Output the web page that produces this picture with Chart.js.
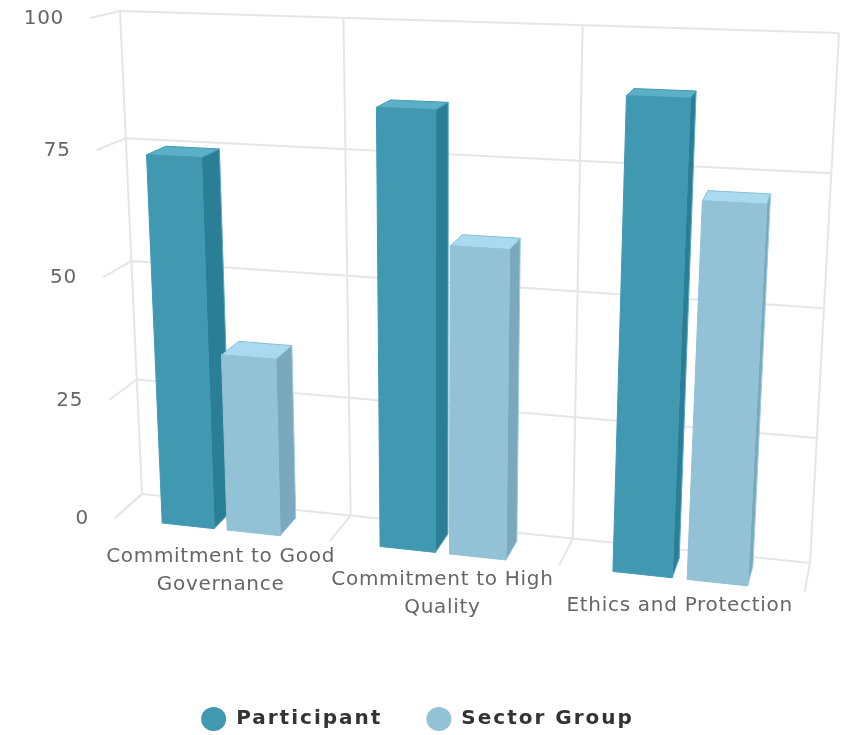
<!DOCTYPE html>
<html>
<head>
<meta charset="utf-8">
<style>
  body { margin: 0; background: #fff; }
</style>
<script src="https://cdn.jsdelivr.net/npm/chart.js@4"></script>
</head>
<body>
<canvas id="chart" width="841" height="735"></canvas>
<script>
// Chart data
const categories = [
  ['Commitment to Good', 'Governance'],
  ['Commitment to High', 'Quality'],
  ['Ethics and Protection']
];
const participantValues = [74.6, 85.5, 89.4];
const sectorValues = [36.2, 60.6, 71.5];
const yTicks = [0, 25, 50, 75, 100];

// Where the plot's walls land on the page: bottom left, bottom right, top right, top left
const frontQuad = [[115, 518], [804.5, 592], [837, 41], [90, 18]];
const backQuad = [[142, 494], [810, 563], [839, 33], [120, 11]];
const barDepth = 0.7;

const participantFaces = { front: '#4198b1', side: '#2a7f97', top: '#5bafc7', edge: '#3f9ab4', sideEdge: '#58a9c1' };
const sectorFaces = { front: '#93c1d6', side: '#7aa8bd', top: '#a9daef', edge: '#86bdd3', sideEdge: '#9accdf' };

function homography(q) {
  const [[x0, y0], [x1, y1], [x2, y2], [x3, y3]] = q;
  const dx1 = x1 - x2, dx2 = x3 - x2, sx = x0 - x1 + x2 - x3;
  const dy1 = y1 - y2, dy2 = y3 - y2, sy = y0 - y1 + y2 - y3;
  const den = dx1 * dy2 - dx2 * dy1;
  const g = (sx * dy2 - dx2 * sy) / den;
  const h = (dx1 * sy - sx * dy1) / den;
  const a = x1 - x0 + g * x1, b = x3 - x0 + h * x3;
  const d = y1 - y0 + g * y1, e = y3 - y0 + h * y3;
  return (u, v) => {
    const w = g * u + h * v + 1;
    return [(a * u + b * v + x0) / w, (d * u + e * v + y0) / w];
  };
}

const frontPlane = homography(frontQuad);
const backPlane = homography(backQuad);

// chart pixel + depth (0 front, 1 back wall) -> page position
function project(chart, px, py, z) {
  const area = chart.chartArea;
  const u = (px - area.left) / (area.right - area.left);
  const v = (area.bottom - py) / (area.bottom - area.top);
  const f = frontPlane(u, v), b = backPlane(u, v);
  return [f[0] + (b[0] - f[0]) * z, f[1] + (b[1] - f[1]) * z];
}

function drawLine(ctx, p, q) {
  ctx.beginPath();
  ctx.moveTo(p[0], p[1]);
  ctx.lineTo(q[0], q[1]);
  ctx.stroke();
}

function drawFace(ctx, pts, fill, stroke) {
  ctx.beginPath();
  pts.forEach((p, i) => i ? ctx.lineTo(p[0], p[1]) : ctx.moveTo(p[0], p[1]));
  ctx.closePath();
  ctx.fillStyle = fill;
  ctx.fill();
  ctx.strokeStyle = stroke;
  ctx.lineWidth = 1;
  ctx.stroke();
}

function drawWalls(chart) {
  const ctx = chart.ctx, area = chart.chartArea, x = chart.scales.x, y = chart.scales.y;
  ctx.save();
  ctx.letterSpacing = '0px';
  ctx.strokeStyle = '#e6e6e6';
  ctx.lineWidth = 2;

  y.ticks.forEach(t => {
    const py = y.getPixelForValue(t.value);
    drawLine(ctx, project(chart, area.left, py, 1), project(chart, area.right, py, 1));
    drawLine(ctx, project(chart, area.left, py, 0), project(chart, area.left, py, 1));
  });

  const step = (area.right - area.left) / categories.length;
  for (let i = 0; i <= categories.length; i++) {
    const px = area.left + step * i;
    drawLine(ctx, project(chart, px, area.top, 1), project(chart, px, area.bottom, 1));
    drawLine(ctx, project(chart, px, area.bottom, 0), project(chart, px, area.bottom, 1));
  }

  ctx.fillStyle = '#666666';
  ctx.font = '20px "DejaVu Sans"';
  ctx.letterSpacing = '0.7px';
  ctx.textAlign = 'right';
  ctx.textBaseline = 'middle';
  y.ticks.forEach(t => {
    const p = project(chart, area.left, y.getPixelForValue(t.value), 0);
    ctx.fillText(t.label, p[0] - 26, p[1] + 0.5);
  });

  ctx.textAlign = 'center';
  categories.forEach((lines, i) => {
    const p = project(chart, x.getPixelForValue(i), area.bottom, 0);
    lines.forEach((line, j) => ctx.fillText(line, p[0], p[1] + 27 + j * 28));
  });
  ctx.restore();
}

function drawBars(chart) {
  const ctx = chart.ctx;
  const faces = [participantFaces, sectorFaces];
  ctx.save();
  categories.forEach((c, i) => {
    faces.forEach((face, s) => {
      const bar = chart.getDatasetMeta(s).data[i];
      const l = bar.x - bar.width / 2, r = bar.x + bar.width / 2;
      const ftl = project(chart, l, bar.y, 0), ftr = project(chart, r, bar.y, 0);
      const fbl = project(chart, l, bar.base, 0), fbr = project(chart, r, bar.base, 0);
      const btl = project(chart, l, bar.y, barDepth), btr = project(chart, r, bar.y, barDepth);
      const bbr = project(chart, r, bar.base, barDepth);
      drawFace(ctx, [ftr, btr, bbr, fbr], face.side, face.sideEdge);
      drawFace(ctx, [ftl, btl, btr, ftr], face.top, face.edge);
      drawFace(ctx, [ftl, ftr, fbr, fbl], face.front, face.front);
    });
  });
  ctx.restore();
}

const perspectivePlugin = {
  id: 'perspective',
  beforeLayout(chart) {
    chart.ctx.letterSpacing = '2px';
  },
  beforeDatasetsDraw(chart) {
    drawWalls(chart);
    drawBars(chart);
    return false; // the flat bars are replaced by the drawn ones
  }
};

new Chart(document.getElementById('chart'), {
  type: 'bar',
  data: {
    labels: categories,
    datasets: [
      { label: 'Participant', data: participantValues, backgroundColor: participantFaces.front },
      { label: 'Sector Group', data: sectorValues, backgroundColor: sectorFaces.front }
    ]
  },
  options: {
    responsive: false,
    animation: false,
    categoryPercentage: 0.61,
    barPercentage: 0.80,
    layout: { padding: { left: 20, right: 26, top: 20, bottom: -4 } },
    scales: {
      x: { display: false },
      y: {
        display: false,
        min: yTicks[0],
        max: yTicks[yTicks.length - 1],
        afterBuildTicks(scale) { scale.ticks = yTicks.map(v => ({ value: v, label: String(v) })); }
      }
    },
    plugins: {
      title: { display: false },
      tooltip: { enabled: false },
      legend: {
        position: 'bottom',
        labels: {
          usePointStyle: true,
          pointStyle: 'circle',
          pointStyleWidth: 25,
          boxHeight: 17,
          padding: 44,
          color: '#333333',
          font: { family: '"DejaVu Sans"', size: 20, weight: 'bold' }
        }
      }
    }
  },
  plugins: [perspectivePlugin]
});
</script>
</body>
</html>
